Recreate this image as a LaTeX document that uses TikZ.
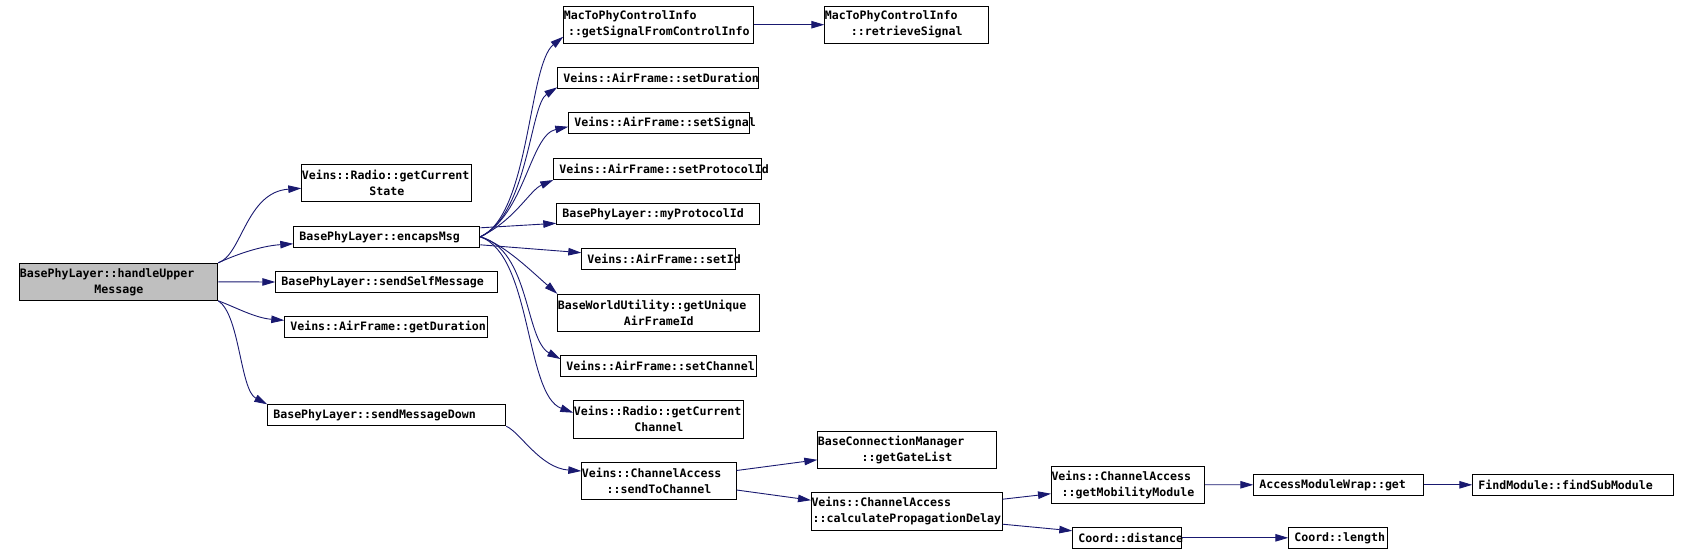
\documentclass[tikz,border=0pt]{standalone}
\usepackage{fontspec}
\usetikzlibrary{arrows.meta,calc}
\newfontfamily\fnfont{DejaVu Sans Mono Bold}[HyphenChar=None]
\definecolor{edgeblue}{HTML}{191970}
\definecolor{rootgray}{HTML}{BFBFBF}
\newcommand{\ctr}[1]{\makebox[\linewidth]{#1}}
\tikzset{
  fn/.style={draw=black, line width=1pt, anchor=west, inner ysep=0pt,
    align=left, font={\fontsize{11.6}{16}\fnfont}},
  one/.style={fn, inner xsep=5.5pt, minimum height=21pt, text width=#1},
  two/.style={fn, inner xsep=0pt, minimum height=37pt, text width=#1},
  call/.style={draw=edgeblue, line width=0.9pt,
    -{Triangle[length=13pt,width=7.5pt]}},
}
\begin{document}
\begin{tikzpicture}[x=1pt,y=-1pt]
\useasboundingbox (0,0) rectangle (1689,555);

% caller and its direct callees
\node[two=198pt, fill=rootgray] (handle) at (19.3,281.8) {BasePhyLayer::handleUpper\\\ctr{Message}};
\node[two=170pt] (state) at (301.3,183.3) {Veins::Radio::getCurrent\\\ctr{State}};
\node[one=175pt] (encaps) at (293.3,236.8) {BasePhyLayer::encapsMsg};
\node[one=211pt] (selfmsg) at (275.3,282) {BasePhyLayer::sendSelfMessage};
\node[one=192pt] (getdur) at (284.3,327.3) {Veins::AirFrame::getDuration};
\node[one=227pt] (msgdown) at (267.3,415.3) {BasePhyLayer::sendMessageDown};

% called from encapsMsg
\node[two=190pt] (sigctrl) at (563.3,24.7) {MacToPhyControlInfo\\\ctr{::getSignalFromControlInfo}};
\node[two=164pt] (retrieve) at (824.3,24.7) {MacToPhyControlInfo\\\ctr{::retrieveSignal}};
\node[one=189.3pt] (setdur) at (557.3,77.8) {Veins::AirFrame::setDuration};
\node[one=169.3pt] (setsig) at (568.3,123.3) {Veins::AirFrame::setSignal};
\node[one=197pt] (setproto) at (553.3,169) {Veins::AirFrame::setProtocolId};
\node[one=192pt] (myproto) at (556.3,213.8) {BasePhyLayer::myProtocolId};
\node[one=143pt] (setid) at (581.3,259.3) {Veins::AirFrame::setId};
\node[two=202pt] (uniqueid) at (557.3,312.8) {BaseWorldUtility::getUnique\\\ctr{AirFrameId}};
\node[one=185pt] (setchan) at (560.3,366) {Veins::AirFrame::setChannel};
\node[two=170pt, minimum height=38pt] (curchan) at (573.3,419.3) {Veins::Radio::getCurrent\\\ctr{Channel}};

% sending down the channel
\node[two=154.3pt] (sendch) at (581.3,480.5) {Veins::ChannelAccess\\\ctr{::sendToChannel}};
\node[two=178.3pt] (gatelist) at (817.3,449.8) {BaseConnectionManager\\\ctr{::getGateList}};
\node[two=190.7pt, minimum height=38pt] (propdelay) at (811,511.2) {Veins::ChannelAccess\\\ctr{::calculatePropagationDelay}};
\node[two=153pt] (mobility) at (1051,484.7) {Veins::ChannelAccess\\\ctr{::getMobilityModule}};
\node[one=159pt] (accwrap) at (1253.3,484.8) {AccessModuleWrap::get};
\node[one=190pt] (findsub) at (1472.3,484.8) {FindModule::findSubModule};
\node[one=98pt] (distance) at (1072.3,537.8) {Coord::distance};
\node[one=88pt] (length) at (1288.3,537.8) {Coord::length};

% edges from handleUpperMessage
\draw[call] (handle.north east) .. controls (242,255) and (246,192) .. ($(state.west)+(0,5)$);
\draw[call] (handle.north east) .. controls (235,255) and (260,246) .. ($(encaps.west)+(0,7)$);
\draw[call] (handle.east) -- (selfmsg.west);
\draw[call] (handle.south east) .. controls (235,307) and (255,318) .. ($(getdur.west)+(0,-7)$);
\draw[call] (handle.south east) .. controls (240,315) and (240,390) .. (msgdown.north west);

% edges from encapsMsg
\draw[call] (encaps.east) .. controls (530,215) and (528,65) .. ($(sigctrl.west)+(0,12)$);
\draw[call] (encaps.east) .. controls (528,215) and (530,105) .. ($(setdur.west)+(0,9.5)$);
\draw[call] (encaps.east) .. controls (525,215) and (530,135) .. ($(setsig.west)+(0,3.4)$);
\draw[call] (encaps.east) .. controls (515,220) and (530,190) .. (setproto.south west);
\draw[call] ($(encaps.east)+(0,-9)$) -- ($(myproto.west)+(0,9.5)$);
\draw[call] ($(encaps.east)+(0,8)$) -- ($(setid.west)+(0,-6.6)$);
\draw[call] (encaps.east) .. controls (505,245) and (530,270) .. (uniqueid.north west);
\draw[call] (encaps.east) .. controls (530,250) and (525,340) .. ($(setchan.west)+(0,-7)$);
\draw[call] (encaps.east) .. controls (532,255) and (525,395) .. ($(curchan.west)+(0,-6.6)$);
\draw[call] (sigctrl.east) -- (retrieve.west);

% edges below sendMessageDown
\draw[call] (msgdown.south east) .. controls (520,432) and (540,468) .. ($(sendch.west)+(0,-9.5)$);
\draw[call] ($(sendch.east)+(0,-10)$) -- ($(gatelist.west)+(0,10)$);
\draw[call] ($(sendch.east)+(0,9.5)$) -- ($(propdelay.west)+(0,-11)$);
\draw[call] ($(propdelay.east)+(0,-12)$) -- ($(mobility.west)+(0,9)$);
\draw[call] ($(propdelay.east)+(0,13)$) -- ($(distance.west)+(0,-7)$);
\draw[call] (mobility.east) -- (accwrap.west);
\draw[call] (accwrap.east) -- (findsub.west);
\draw[call] (distance.east) -- (length.west);
\end{tikzpicture}
\end{document}
